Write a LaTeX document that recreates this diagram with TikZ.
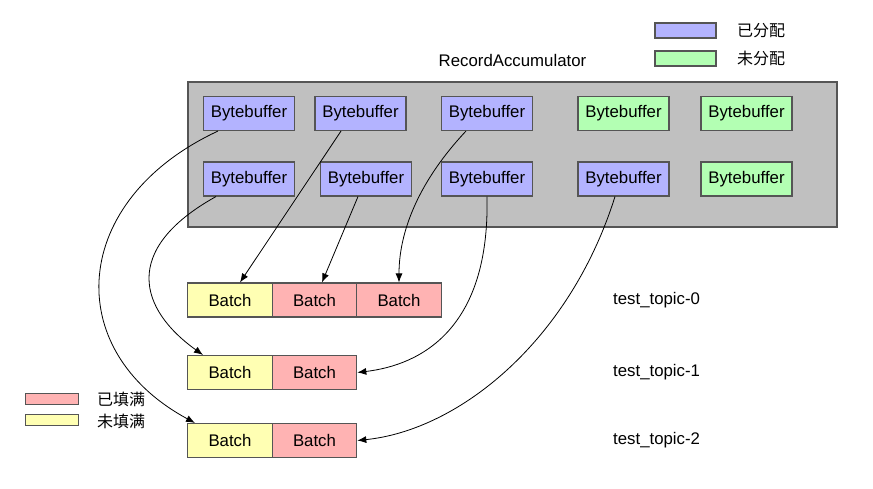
\documentclass[tikz,border=0pt]{standalone}
\usepackage{fontspec}
\setmainfont{Liberation Sans}
\newfontfamily\cjk{Noto Sans CJK SC}
\usetikzlibrary{arrows.meta}

\definecolor{borde}{HTML}{555555}
\definecolor{gris}{HTML}{C0C0C0}
\definecolor{azul}{HTML}{B3B3FF}
\definecolor{verde}{HTML}{B3FFB3}
\definecolor{rosa}{HTML}{FFB3B3}
\definecolor{amarillo}{HTML}{FFFFB3}

\begin{document}
\begin{tikzpicture}[x=1pt,y=-1pt,
    caja/.style={draw=borde,line width=1.1pt,inner sep=0pt,minimum height=34pt,
        font=\fontsize{16.8}{19}\selectfont},
    usado/.style={caja,fill=azul,minimum width=91pt},
    libre/.style={caja,fill=verde,minimum width=91pt},
    lleno/.style={caja,fill=rosa,minimum width=84.5pt},
    parcial/.style={caja,fill=amarillo,minimum width=84.5pt},
    marca/.style={draw=borde,line width=1.1pt,inner sep=0pt},
    texto/.style={inner sep=0pt,font=\fontsize{16.8}{19}\selectfont},
    chino/.style={inner sep=0pt,anchor=west,font=\fontsize{16}{18}\selectfont\cjk},
    flecha/.style={-{Latex[length=9pt,width=7pt]},line width=0.8pt}]
    \useasboundingbox (0,0) rectangle (873,489);

    % Fondo del acumulador
    \node[draw=borde,line width=1.1pt,fill=gris,minimum width=649pt,minimum height=145pt,inner sep=0pt]
        (RA) at (512.5,154.5) {};
    \node[texto] (T) at (512.5,60) {RecordAccumulator};

    % Leyenda superior
    \node[marca,fill=azul,minimum width=61pt,minimum height=15pt] (L1) at (685.5,30.5) {};
    \node[marca,fill=verde,minimum width=61pt,minimum height=15pt] (L2) at (685.5,58.5) {};
    \node[chino] (E1) at (737,30.5) {已分配};
    \node[chino] (E2) at (737,58.5) {未分配};

    % Primera fila de buffers
    \node[usado] (A1) at (249,113.5) {Bytebuffer};
    \node[usado] (A2) at (360.5,113.5) {Bytebuffer};
    \node[usado] (A3) at (487,113.5) {Bytebuffer};
    \node[libre] (A4) at (623.5,113.5) {Bytebuffer};
    \node[libre] (A5) at (746.5,113.5) {Bytebuffer};

    % Segunda fila de buffers
    \node[usado] (B1) at (249,179) {Bytebuffer};
    \node[usado] (B2) at (366,179) {Bytebuffer};
    \node[usado] (B3) at (487,179) {Bytebuffer};
    \node[usado] (B4) at (623.5,179) {Bytebuffer};
    \node[libre] (B5) at (746.5,179) {Bytebuffer};

    % Batches de test_topic-0
    \node[parcial] (P1) at (230,300) {Batch};
    \node[lleno] (P2) at (314.5,300) {Batch};
    \node[lleno] (P3) at (399,300) {Batch};
    \node[texto,anchor=west] (N0) at (613,300) {test\_topic-0};

    % Batches de test_topic-1
    \node[parcial] (Q1) at (230,372.5) {Batch};
    \node[lleno] (Q2) at (314.5,372.5) {Batch};
    \node[texto,anchor=west] (N1) at (613,372.5) {test\_topic-1};

    % Batches de test_topic-2
    \node[parcial] (R1) at (230,440.5) {Batch};
    \node[lleno] (R2) at (314.5,440.5) {Batch};
    \node[texto,anchor=west] (N2) at (613,440.5) {test\_topic-2};

    % Leyenda inferior
    \node[marca,fill=rosa,minimum width=53pt,minimum height=11pt] (L3) at (52,399) {};
    \node[marca,fill=amarillo,minimum width=53pt,minimum height=11pt] (L4) at (52,420) {};
    \node[chino] (E3) at (97,399) {已填满};
    \node[chino] (E4) at (97,421) {未填满};

    % Flechas de los buffers a los batches
    \draw[flecha] ([xshift=-31pt]A1.south) .. controls (70,200) and (60,350) .. ([xshift=-35pt]R1.north);
    \draw[flecha] ([xshift=-33pt]B1.south) .. controls (120,250) and (140,310) .. ([xshift=-27pt]Q1.north);
    \draw[flecha] ([xshift=-19.5pt]A2.south) -- ([xshift=10pt]P1.north);
    \draw[flecha] ([xshift=-8pt]B2.south) -- ([xshift=7.5pt]P2.north);
    \draw[flecha] ([xshift=-21pt]A3.south) .. controls (420,180) and (399,230) .. (P3.north);
    \draw[flecha] (B3.south) .. controls (490,330) and (420,365) .. (Q2.east);
    \draw[flecha] ([xshift=-8.5pt]B4.south) .. controls (570,340) and (460,430) .. (R2.east);
\end{tikzpicture}
\end{document}
